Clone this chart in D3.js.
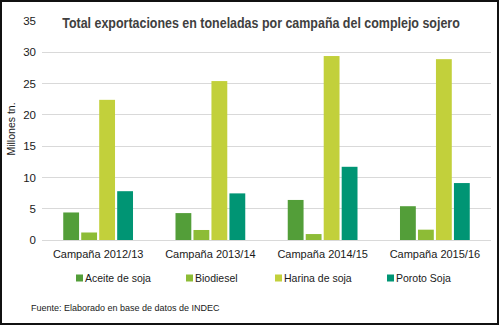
<!DOCTYPE html>
<html><head><meta charset="utf-8">
<script src="https://cdn.jsdelivr.net/npm/d3@7"></script>
<style>body{margin:0;background:#fff}svg{display:block}</style>
</head><body>
<svg id="c" width="500" height="326"></svg>
<script>
const categories = ["Campaña 2012/13","Campaña 2013/14","Campaña 2014/15","Campaña 2015/16"];
const seriesNames = ["Aceite de soja","Biodiesel","Harina de soja","Poroto Soja"];
const aceite = [4.4, 4.3, 6.4, 5.4];
const biodiesel = [1.2, 1.6, 0.95, 1.65];
const harina = [22.4, 25.4, 29.4, 28.9];
const poroto = [7.8, 7.45, 11.7, 9.1];
const yTicks = [0,5,10,15,20,25,30,35];
const colors = ["#539E39","#8DBC36","#C2D03B","#009574"];

const values = [aceite, biodiesel, harina, poroto];
const svg = d3.select("#c");
const font = "'Liberation Sans', Arial, sans-serif";

const y = d3.scaleLinear().domain([0,35]).range([240,21]);
const x0 = d3.scaleBand().domain(categories).range([42,491]).paddingInner(0.34).paddingOuter(0.17);
const x1 = d3.scaleBand().domain(seriesNames).range([0,x0.bandwidth()]).padding(0.12);

// gridlines
svg.append("g").selectAll("line").data(yTicks.filter(t=>t<35)).join("line")
  .attr("x1",42).attr("x2",491).attr("y1",d=>y(d)).attr("y2",d=>y(d))
  .attr("stroke","#d9d9d9").attr("stroke-width",1).attr("shape-rendering","crispEdges");

// y axis labels
const yAxis = d3.axisLeft(y).tickValues(yTicks).tickSize(0).tickPadding(0);
const gy = svg.append("g").attr("transform","translate(36,0)").call(yAxis);
gy.select(".domain").remove();
gy.selectAll("text").attr("font-family",font).attr("font-size",11.5).attr("fill","#1a1a1a");

// bars
const groups = svg.append("g").selectAll("g").data(categories).join("g")
  .attr("transform",d=>`translate(${x0(d)},0)`);
groups.selectAll("rect").data((c,i)=>seriesNames.map((s,j)=>({s,j,v:values[j][i]}))).join("rect")
  .attr("x",d=>x1(d.s)).attr("width",x1.bandwidth())
  .attr("y",d=>y(d.v)).attr("height",d=>y(0)-y(d.v))
  .attr("fill",d=>colors[d.j]);

// x axis labels
const xAxis = d3.axisBottom(x0).tickSize(0).tickPadding(0);
const gx = svg.append("g").attr("transform","translate(0,250)").call(xAxis);
gx.select(".domain").remove();
gx.selectAll("text").attr("font-family",font).attr("font-size",11).attr("fill","#1a1a1a");

// y title
svg.append("text").attr("transform","translate(15,129) rotate(-90)")
  .attr("text-anchor","middle").attr("font-family",font).attr("font-size",10.5).attr("fill","#1a1a1a")
  .text("Millones tn.");

// title (horizontally condensed to mimic a narrow bold face)
const tg = svg.append("g");
const title = tg.append("text").attr("x",0).attr("y",0).attr("text-anchor","middle")
  .attr("font-family",font).attr("font-weight","bold")
  .attr("font-size",15.5).attr("fill","#404040")
  .text("Total exportaciones en toneladas por campaña del complejo sojero");
const tw = title.node().getComputedTextLength();
tg.attr("transform",`translate(261,28) scale(${398/tw},1)`);

// legend
const legX = [76,186,275,387];
const leg = svg.append("g").selectAll("g").data(seriesNames).join("g")
  .attr("transform",(d,i)=>`translate(${legX[i]},278)`);
leg.append("rect").attr("x",0).attr("y",-3.5).attr("width",7).attr("height",7).attr("fill",(d,i)=>colors[i]);
leg.append("text").attr("x",9).attr("y",4).attr("font-family",font).attr("font-size",10.5)
  .attr("fill","#1a1a1a").text(d=>d);

// source
svg.append("text").attr("x",31).attr("y",311).attr("font-family",font).attr("font-size",9)
  .attr("fill","#1a1a1a")
  .text("Fuente: Elaborado en base de datos de INDEC");

// border
svg.append("rect").attr("x",1).attr("y",1).attr("width",497).attr("height",323)
  .attr("fill","none").attr("stroke","#111").attr("stroke-width",2);
</script>
</body></html>
